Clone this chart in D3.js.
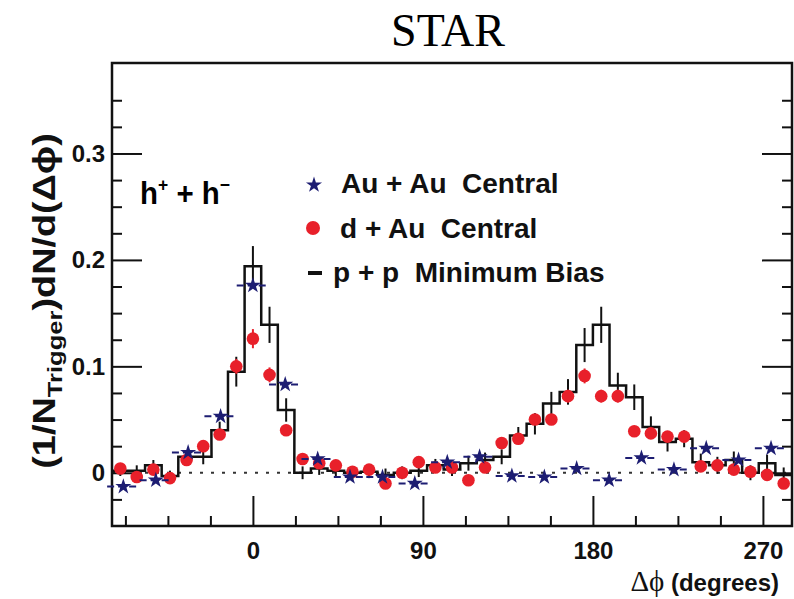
<!DOCTYPE html>
<html lang="en">
<head>
<meta charset="UTF-8">
<title>STAR</title>
<script src="https://d3js.org/d3.v7.min.js"></script>
<style>
body {margin: 0; background: #fff;}
svg {display: block;}
.sans {font-family: "Liberation Sans", Arial, Helvetica, sans-serif; font-weight: bold;}
.serif {font-family: "Liberation Serif", "Times New Roman", serif;}
</style>
</head>
<body>
<svg width="794" height="599"></svg>
<script>
// delta phi bin centres (degrees), p+p and d+Au share the binning
const binCenters = [-70.2, -61.5, -52.7, -43.9, -35.1, -26.3, -17.6, -8.8, 0, 8.8,
    17.6, 26.3, 35.1, 43.9, 52.7, 61.5, 70.2, 79.0, 87.8, 96.6,
    105.4, 114.1, 122.9, 131.7, 140.5, 149.3, 158.0, 166.8, 175.6, 184.4,
    193.2, 201.9, 210.7, 219.5, 228.3, 237.1, 245.9, 254.6, 263.4, 272.2, 281.0];

// p+p minimum bias (histogram)
const ppVal = [0.002, 0.002, 0.007, -0.003, 0.015, 0.015, 0.040, 0.095, 0.194, 0.139,
    0.059, 0.000, 0.004, 0.002, 0.000, 0.001, -0.002, 0.000, 0.002, 0.007,
    0.003, 0.009, 0.012, 0.015, 0.035, 0.046, 0.065, 0.076, 0.120, 0.139,
    0.082, 0.071, 0.043, 0.029, 0.032, 0.010, 0.007, 0.012, 0.000, 0.009, -0.002];
const ppErr = [0.005, 0.005, 0.005, 0.005, 0.006, 0.007, 0.008, 0.014, 0.019, 0.017,
    0.011, 0.006, 0.006, 0.006, 0.006, 0.006, 0.006, 0.006, 0.006, 0.006,
    0.006, 0.007, 0.007, 0.007, 0.008, 0.010, 0.011, 0.012, 0.016, 0.017,
    0.012, 0.012, 0.010, 0.009, 0.008, 0.008, 0.008, 0.008, 0.007, 0.008, 0.007];

// d+Au central
const dAuVal = [0.004, -0.004, 0.003, -0.005, 0.012, 0.025, 0.036, 0.100, 0.126, 0.092,
    0.040, 0.013, 0.009, 0.007, 0.001, 0.003, -0.010, 0.000, 0.010, 0.005,
    0.005, -0.007, 0.005, 0.028, 0.032, 0.050, 0.050, 0.072, 0.091, 0.072,
    0.072, 0.039, 0.037, 0.034, 0.034, 0.006, 0.007, 0.003, 0.001, -0.002, -0.010];
const dAuErr = [0.004, 0.004, 0.004, 0.004, 0.004, 0.005, 0.005, 0.007, 0.009, 0.007,
    0.005, 0.004, 0.004, 0.004, 0.004, 0.004, 0.004, 0.004, 0.004, 0.004,
    0.004, 0.004, 0.004, 0.005, 0.005, 0.005, 0.005, 0.006, 0.007, 0.006,
    0.006, 0.005, 0.005, 0.005, 0.005, 0.004, 0.004, 0.004, 0.004, 0.004, 0.004];

// Au+Au central, coarser bins
const auCenters = [-68.6, -51.4, -34.3, -17.1, 0, 17.1, 34.3, 51.4, 68.6, 85.7,
    102.9, 120.0, 137.1, 154.3, 171.4, 188.6, 205.7, 222.9, 240.0, 257.1, 274.3];
const auVal = [-0.013, -0.007, 0.019, 0.053, 0.176, 0.083, 0.013, -0.004, -0.004, -0.010,
    0.010, 0.015, -0.003, -0.004, 0.004, -0.007, 0.014, 0.003, 0.023, 0.012, 0.023];

const xMajor = [0, 90, 180, 270];
const xMinor = [-67.5, -45, -22.5, 22.5, 45, 67.5, 112.5, 135, 157.5, 202.5, 225, 247.5];
const yMajor = [0, 0.1, 0.2, 0.3];
const yMinor = [-0.025, 0.025, 0.05, 0.075, 0.125, 0.15, 0.175, 0.225, 0.25, 0.275, 0.325, 0.35];

const legendLabels = ["Au + Au  Central", "d + Au  Central", "p + p  Minimum Bias"];

const pl = 112, pr = 792, pt = 63, pb = 526;
const x = d3.scaleLinear().domain([-74.6, 285.4]).range([pl, pr]);
const y = d3.scaleLinear().domain([-0.05, 0.385]).range([pb, pt]);

const svg = d3.select("svg");
const navy = "#1d1d72", red = "#e8202a";

// title
svg.append("text").attr("class", "serif")
    .attr("x", 448).attr("y", 46)
    .attr("text-anchor", "middle")
    .style("font-size", "46px")
    .text("STAR");

// zero line
svg.append("line")
    .attr("x1", pl).attr("x2", pr)
    .attr("y1", y(0)).attr("y2", y(0))
    .attr("stroke", "#333").attr("stroke-width", 2)
    .attr("stroke-dasharray", "3,8");

// axes
function ticks(axis, vals, size, g, labels) {
    axis.tickValues(vals).tickSize(size).tickSizeOuter(0);
    if (!labels) axis.tickFormat("");
    g.call(axis);
    g.select(".domain").remove();
    g.selectAll(".tick line").attr("stroke", "#111").attr("stroke-width", 2);
    return g;
}
const gxb = svg.append("g").attr("transform", "translate(0," + pb + ")");
ticks(d3.axisBottom(x).tickPadding(16).tickFormat(d3.format("d")), xMajor, -30, gxb, true);
ticks(d3.axisBottom(x), xMinor, -10, svg.append("g").attr("transform", "translate(0," + pb + ")"), false);

const gyl = svg.append("g").attr("transform", "translate(" + pl + ",0)");
ticks(d3.axisLeft(y).tickPadding(7).tickFormat(d => d === 0 ? "0" : d.toFixed(1)), yMajor, -30, gyl, true);
ticks(d3.axisLeft(y), yMinor, -10, svg.append("g").attr("transform", "translate(" + pl + ",0)"), false);
ticks(d3.axisRight(y), yMajor, -30, svg.append("g").attr("transform", "translate(" + pr + ",0)"), false);
ticks(d3.axisRight(y), yMinor, -10, svg.append("g").attr("transform", "translate(" + pr + ",0)"), false);

svg.selectAll(".tick text").attr("class", "sans")
    .style("font-size", "24px").attr("fill", "#111");

// frame
svg.append("rect")
    .attr("x", pl).attr("y", pt)
    .attr("width", pr - pl).attr("height", pb - pt)
    .attr("fill", "none").attr("stroke", "#111").attr("stroke-width", 2.5);

// p+p histogram
const bw = (binCenters[binCenters.length - 1] - binCenters[0]) / (binCenters.length - 1);
const histPts = [];
binCenters.forEach((c, i) => {
    histPts.push([c - bw / 2, ppVal[i]]);
    histPts.push([c + bw / 2, ppVal[i]]);
});
svg.append("path")
    .datum(histPts)
    .attr("fill", "none").attr("stroke", "#111").attr("stroke-width", 2.5)
    .attr("d", d3.line().x(d => x(d[0])).y(d => y(d[1])));

svg.append("g").selectAll("line")
    .data(binCenters)
    .enter().append("line")
    .attr("x1", d => x(d)).attr("x2", d => x(d))
    .attr("y1", (d, i) => y(ppVal[i] - ppErr[i]))
    .attr("y2", (d, i) => y(ppVal[i] + ppErr[i]))
    .attr("stroke", "#111").attr("stroke-width", 2);

// d+Au
svg.append("g").selectAll("line")
    .data(binCenters)
    .enter().append("line")
    .attr("x1", d => x(d)).attr("x2", d => x(d))
    .attr("y1", (d, i) => y(dAuVal[i] - dAuErr[i]))
    .attr("y2", (d, i) => y(dAuVal[i] + dAuErr[i]))
    .attr("stroke", red).attr("stroke-width", 2);
svg.append("g").selectAll("circle")
    .data(binCenters)
    .enter().append("circle")
    .attr("cx", d => x(d))
    .attr("cy", (d, i) => y(dAuVal[i]))
    .attr("r", 6.3)
    .attr("fill", red);

// Au+Au
const aw = (auCenters[auCenters.length - 1] - auCenters[0]) / (auCenters.length - 1);
svg.append("g").selectAll("line")
    .data(auCenters)
    .enter().append("line")
    .attr("x1", d => x(d - aw / 2)).attr("x2", d => x(d + aw / 2))
    .attr("y1", (d, i) => y(auVal[i])).attr("y2", (d, i) => y(auVal[i]))
    .attr("stroke", navy).attr("stroke-width", 2)
    .attr("stroke-dasharray", "7,4");
const star = d3.symbol().type(d3.symbolStar).size(80);
svg.append("g").selectAll("path")
    .data(auCenters)
    .enter().append("path")
    .attr("d", star)
    .attr("transform", (d, i) => "translate(" + x(d) + "," + y(auVal[i]) + ")")
    .attr("fill", navy);

// h+ + h-
const hh = svg.append("text").attr("class", "sans")
    .attr("transform", "translate(140,204) scale(0.92,1)")
    .style("font-size", "32px");
hh.append("tspan").text("h");
hh.append("tspan").attr("dy", -13).style("font-size", "19px").text("+");
hh.append("tspan").attr("dy", 13).text(" + h");
hh.append("tspan").attr("dy", -13).style("font-size", "19px").text("\u2212");

// legend
const legY = [193, 238, 282];
const legX = [341, 340, 333];
legendLabels.forEach((t, i) => {
    svg.append("text").attr("class", "sans")
        .attr("x", legX[i]).attr("y", legY[i])
        .style("font-size", "28px").attr("fill", "#111")
        .style("white-space", "pre")
        .text(t);
});
svg.append("path").attr("d", d3.symbol().type(d3.symbolStar).size(80))
    .attr("transform", "translate(314,185)").attr("fill", navy);
svg.append("circle").attr("cx", 313).attr("cy", 228).attr("r", 7).attr("fill", red);
svg.append("line").attr("x1", 308).attr("x2", 322).attr("y1", 273).attr("y2", 273)
    .attr("stroke", "#111").attr("stroke-width", 4);

// y axis title
const yt = svg.append("text").attr("class", "sans")
    .attr("transform", "translate(55,301) rotate(-90) scale(1.22,1)")
    .attr("text-anchor", "middle")
    .style("font-size", "31px").attr("fill", "#111");
yt.append("tspan").text("(1/N");
yt.append("tspan").attr("dy", 7).style("font-size", "21px").text("Trigger");
yt.append("tspan").attr("dy", -7).text(")dN/d(\u0394\u03d5)");

// x axis title
const xt = svg.append("text").attr("x", 779).attr("y", 591)
    .attr("text-anchor", "end").attr("fill", "#111");
xt.append("tspan").attr("class", "serif").style("font-size", "29px").text("\u0394\u03d5");
xt.append("tspan").attr("class", "sans").style("font-size", "24px").text(" (degrees)");
</script>
</body>
</html>
